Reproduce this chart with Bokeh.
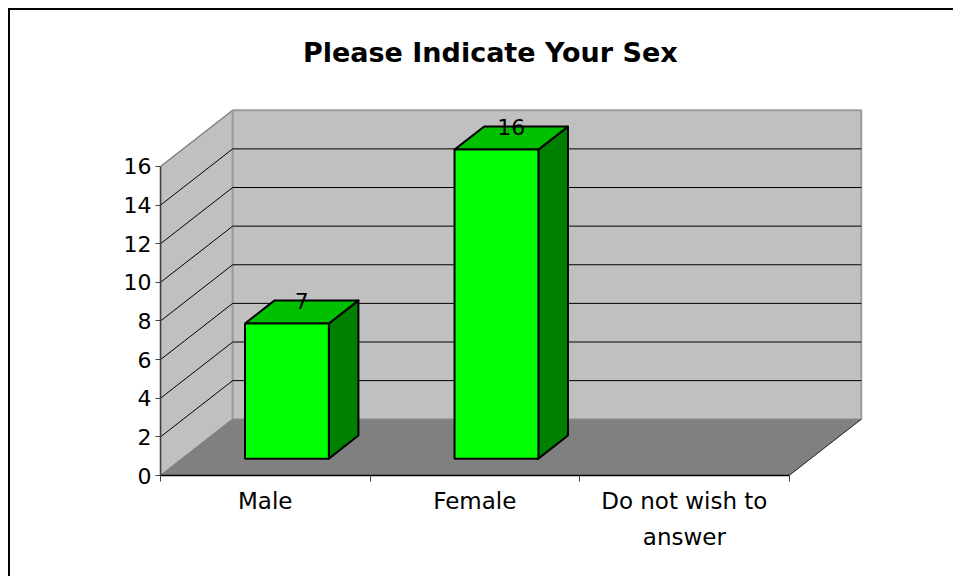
from bokeh.plotting import figure
from bokeh.models import Range1d, FixedTicker
from bokeh.core.properties import value
from bokeh.embed import file_html
from bokeh.resources import INLINE

# ---- data ----
title_text = "Please Indicate Your Sex"
categories = ["Male", "Female", "Do not wish to\nanswer"]
counts = [7, 16, 0]
y_ticks = [0, 2, 4, 6, 8, 10, 12, 14, 16]

# ---- geometry / style constants ----
PX_PER_CAT = 209.0      # pixels per category
PX_PER_UNIT = 19.23     # pixels per count unit
DX = 72.0 / PX_PER_CAT  # full depth shift in x (category units)
DY = 56.0 / PX_PER_UNIT # full depth shift in y (value units)
BAR_W = 0.40
F1, F2 = 0.30, 0.71     # bar depth span (fraction of full depth)
Y_MAX = y_ticks[-1]
N = len(categories)
FONT = "DejaVu Sans"

W, H = 943, 566
ML, MB = 150, 103
frame_w = W - ML
frame_h = H - MB

p = figure(width=W, height=H, output_backend="svg", toolbar_location=None,
           x_range=Range1d(0, frame_w / PX_PER_CAT),
           y_range=Range1d(0, frame_h / PX_PER_UNIT),
           min_border_left=ML, min_border_right=0, min_border_top=0,
           min_border_bottom=MB, tools="")
p.styles = {"box-sizing": "content-box", "margin-left": "8px", "margin-top": "8px",
            "border-left": "2px solid black", "border-top": "2px solid black"}
p.outline_line_color = None
p.grid.visible = False
p.background_fill_color = "white"
p.border_fill_color = "white"

# side wall
p.patch(x=[0, DX, DX, 0], y=[0, DY, Y_MAX + DY, Y_MAX],
        fill_color="#C0C0C0", line_color="#808080", line_width=1.5)
# back wall
p.quad(left=[DX], right=[N + DX], bottom=[DY], top=[Y_MAX + DY],
       fill_color="#C0C0C0", line_color="#9A9A9A", line_width=2)
# floor
p.patch(x=[0, N, N + DX, DX], y=[0, 0, DY, DY],
        fill_color="#808080", line_color=None)
p.segment(x0=[N], y0=[0], x1=[N + DX], y1=[DY], line_color="#202020", line_width=1)

# gridlines (back wall + side wall diagonals)
inner = y_ticks[1:-1]
p.segment(x0=[DX] * len(inner), y0=[v + DY for v in inner],
          x1=[N + DX] * len(inner), y1=[v + DY for v in inner],
          line_color="black", line_width=1)
p.segment(x0=[0] * len(inner), y0=inner,
          x1=[DX] * len(inner), y1=[v + DY for v in inner],
          line_color="black", line_width=1)

# bars
idx = [i for i, v in enumerate(counts) if v > 0]
cx = [i + 0.5 for i in idx]
vals = [counts[i] for i in idx]
x0 = [c - BAR_W / 2 for c in cx]
x1 = [c + BAR_W / 2 for c in cx]

p.patches(xs=[[b + F1 * DX, b + F2 * DX, b + F2 * DX, b + F1 * DX] for b in x1],
          ys=[[F1 * DY, F2 * DY, v + F2 * DY, v + F1 * DY] for v in vals],
          fill_color="#008000", line_color="black", line_width=2, line_join="round")
p.patches(xs=[[a + F1 * DX, b + F1 * DX, b + F2 * DX, a + F2 * DX] for a, b in zip(x0, x1)],
          ys=[[v + F1 * DY, v + F1 * DY, v + F2 * DY, v + F2 * DY] for v in vals],
          fill_color="#00C000", line_color="black", line_width=2, line_join="round")
p.quad(left=[a + F1 * DX for a in x0], right=[b + F1 * DX for b in x1],
       bottom=[F1 * DY] * len(vals), top=[v + F1 * DY for v in vals],
       fill_color="#00FF00", line_color="black", line_width=2)

# data labels
mid = (F1 + F2) / 2
p.text(x=[c + mid * DX for c in cx], y=[v + mid * DY for v in vals],
       text=[str(v) for v in vals], text_align="center", text_baseline="alphabetic",
       y_offset=-11, text_font=value(FONT), text_font_size="22px", text_color="black")

# title
p.text(x=[(489 - 160) / PX_PER_CAT], y=[(473 - 61) / PX_PER_UNIT], text=[title_text],
       text_align="center", text_baseline="alphabetic", y_offset=-9,
       text_font=value(FONT), text_font_style="bold", text_font_size="27px",
       text_color="black")

# y axis
ya = p.yaxis[0]
ya.ticker = FixedTicker(ticks=y_ticks)
ya.bounds = (0, Y_MAX)
ya.axis_line_color = "#404040"
ya.axis_line_width = 1.5
ya.major_tick_line_color = "#404040"
ya.major_tick_out = 5
ya.major_tick_in = 0
ya.minor_tick_line_color = None
ya.major_label_standoff = 4
ya.major_label_text_font = FONT
ya.major_label_text_font_size = "22px"
ya.major_label_text_color = "black"

# x axis
xa = p.xaxis[0]
centers = [i + 0.5 for i in range(N)]
xa.ticker = FixedTicker(ticks=centers, minor_ticks=list(range(N + 1)))
xa.major_label_overrides = {c: lab for c, lab in zip(centers, categories)}
xa.bounds = (0, N)
xa.axis_line_color = "black"
xa.axis_line_width = 1.5
xa.major_tick_line_color = None
xa.minor_tick_line_color = "#404040"
xa.minor_tick_out = 6
xa.minor_tick_in = 0
xa.major_label_standoff = 6
xa.major_label_text_font = FONT
xa.major_label_text_font_size = "23px"
xa.major_label_text_color = "black"
xa.major_label_text_line_height = 1.4

open("out.html", "w").write(file_html(p, INLINE))
